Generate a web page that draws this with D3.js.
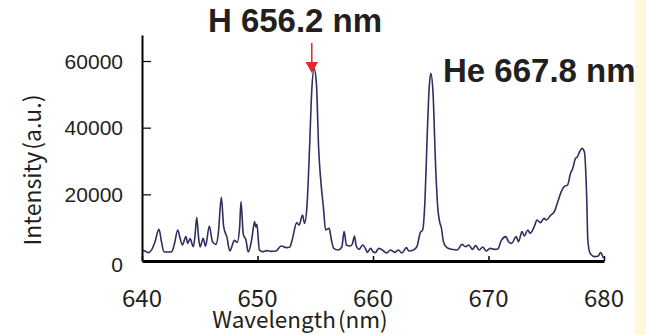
<!DOCTYPE html>
<html><head><meta charset="utf-8">
<script src="https://cdn.jsdelivr.net/npm/d3@7/dist/d3.min.js"></script>
<style>body{margin:0;background:#fff}svg{display:block}</style>
</head><body>
<svg id="c" width="646" height="335"></svg>
<script>
const wavelength = [640.0,640.3,640.55,640.8,641.1,641.47,641.7,641.9,642.2,642.57,642.8,643.09,643.3,643.5,643.8,643.96,644.16,644.45,644.6,644.74,644.9,645.03,645.3,645.5,645.83,646.1,646.4,646.6,646.87,647.07,647.36,647.6,648.0,648.25,648.45,648.57,648.77,649.0,649.2,649.5,649.75,649.85,649.95,650.16,650.45,650.8,651.2,651.6,652.05,652.5,652.8,653.0,653.4,653.6,653.9,654.07,654.28,654.5,654.7,654.9,655.1,655.3,655.5,655.7,655.9,656.2,656.4,656.6,657.0,657.3,657.5,657.7,658.0,658.2,658.4,658.55,658.8,659.1,659.4,659.5,659.8,660.0,660.2,660.5,660.8,661.2,661.5,661.9,662.2,662.5,662.9,663.1,663.5,663.8,664.1,664.3,664.5,664.67,664.87,665.0,665.2,665.4,665.6,665.8,665.9,666.1,666.4,666.8,667.3,667.7,668.0,668.3,668.6,668.9,669.2,669.5,669.8,670.15,670.5,670.8,671.1,671.5,671.75,672.0,672.4,672.6,672.9,673.1,673.4,673.6,673.96,674.2,674.5,674.8,675.0,675.4,675.7,676.0,676.3,676.55,676.85,677.1,677.3,677.5,677.7,677.9,678.1,678.3,678.5,678.6,678.8,679.2,679.5,679.7,679.95];
const intensity = [3300,2900,2500,3200,5500,9500,5500,2800,2700,2800,5000,9300,6800,4800,7300,5300,6700,4300,8000,13100,7000,4200,6800,4400,10500,5800,5000,8000,19100,10300,7000,3000,6200,5600,10000,17800,8000,6300,2700,6500,11800,10200,11000,3300,2800,3100,2900,3000,4500,4000,4200,6300,11500,10800,13800,11300,16300,33300,51300,57800,53300,33300,23300,16300,9300,9800,6300,3800,3300,4200,8800,4800,4500,5000,7500,4500,3500,4800,3300,2600,3800,2800,2500,3800,3300,2400,3300,2600,3300,2400,4000,3000,3300,4300,8600,9300,18300,35300,52300,56300,50300,30300,16300,11300,10300,5800,4000,3500,3300,5000,4300,4800,3500,4600,3300,4200,3000,3800,3500,3600,6100,7300,5700,5300,7300,5800,8800,7500,9300,8300,10300,12300,11500,12800,12300,13800,14800,17800,20800,22300,22800,26300,27800,30500,31300,32800,33800,32800,19300,6300,2300,1300,1500,2500,800];
const xTicks = [640,650,660,670,680];
const yTicks = [0,20000,40000,60000];
const peakLabels = ["H 656.2 nm","He 667.8 nm"];
const arrowWavelength = 654.7;
const xTitle = ["Wavelength","(nm)"];
const yTitle = ["Intensity","(a.u.)"];

const svg = d3.select("#c");
const x = d3.scaleLinear().domain([640,680]).range([142,604]);
const y = d3.scaleLinear().domain([0,67800]).range([261,35]);

svg.append("rect").attr("x",635).attr("y",0).attr("width",11).attr("height",335).attr("fill","#fef8da");

const data = wavelength.map((w,i)=>[w,intensity[i]]);
svg.append("path").datum(data)
  .attr("fill","none").attr("stroke","#2e2f5f").attr("stroke-width",1.6)
  .attr("stroke-linejoin","round")
  .attr("d", d3.line().x(d=>x(d[0])).y(d=>y(d[1])).curve(d3.curveMonotoneX));

// x axis
const gx = svg.append("g").attr("transform","translate(0,261)")
  .call(d3.axisBottom(x).tickValues(xTicks).tickSizeInner(-5).tickSizeOuter(0).tickFormat(""));
gx.select(".domain").attr("stroke","#000").attr("stroke-width",3);
gx.selectAll(".tick line").attr("stroke","#000").attr("stroke-width",1.5);
svg.append("g").selectAll("text").data(xTicks).join("text")
  .attr("x",d=>x(d)).attr("y",307).attr("text-anchor","middle")
  .attr("font-family","'Noto Sans CJK JP', 'Noto Sans', sans-serif").attr("font-size",24).attr("fill","#231f20")
  .text(d=>d);

// y axis
const gy = svg.append("g").attr("transform","translate(142,0)")
  .call(d3.axisLeft(y).tickValues(yTicks.filter(d=>d>0)).tickSizeInner(-9).tickSizeOuter(0).tickFormat(""));
gy.select(".domain").attr("stroke","#000").attr("stroke-width",2);
gy.selectAll(".tick line").attr("stroke","#000").attr("stroke-width",1.2);
svg.append("g").selectAll("text").data(yTicks).join("text")
  .attr("x",123).attr("y",d=>y(d)+ (d===0?11:7.5)).attr("text-anchor","end")
  .attr("font-family","'Liberation Sans', Arial, sans-serif").attr("font-size",21).attr("fill","#231f20")
  .text(d=>d);

// titles
const tx = svg.append("text").attr("x",300).attr("y",328).attr("text-anchor","middle")
  .attr("font-family","'Noto Sans CJK JP', sans-serif").attr("font-size",22.5).attr("fill","#231f20");
tx.append("tspan").text(xTitle[0]);
tx.append("tspan").attr("dx",2).text(xTitle[1]);
const ty = svg.append("text").attr("transform","translate(41,170) rotate(-90)").attr("text-anchor","middle")
  .attr("font-family","'Noto Sans CJK JP', sans-serif").attr("font-size",23).attr("fill","#231f20");
ty.append("tspan").text(yTitle[0]);
ty.append("tspan").attr("dx",2).text(yTitle[1]);

// peak labels
svg.append("text").attr("x",295).attr("y",32).attr("text-anchor","middle")
  .attr("font-family","'Liberation Sans', Arial, sans-serif").attr("font-weight","bold").attr("font-size",33).attr("fill","#231f20").text(peakLabels[0]);
svg.append("text").attr("x",443).attr("y",82).attr("text-anchor","start")
  .attr("font-family","'Liberation Sans', Arial, sans-serif").attr("font-weight","bold").attr("font-size",33).attr("fill","#231f20").text(peakLabels[1]);

// red arrow
const ax = x(arrowWavelength);
svg.append("line").attr("x1",ax).attr("x2",ax).attr("y1",43).attr("y2",63).attr("stroke","#e8262a").attr("stroke-width",1.5);
svg.append("path").attr("d",`M${ax-6.2},62L${ax+6.2},62L${ax},73Z`).attr("fill","#e8262a");
</script>
</body></html>
